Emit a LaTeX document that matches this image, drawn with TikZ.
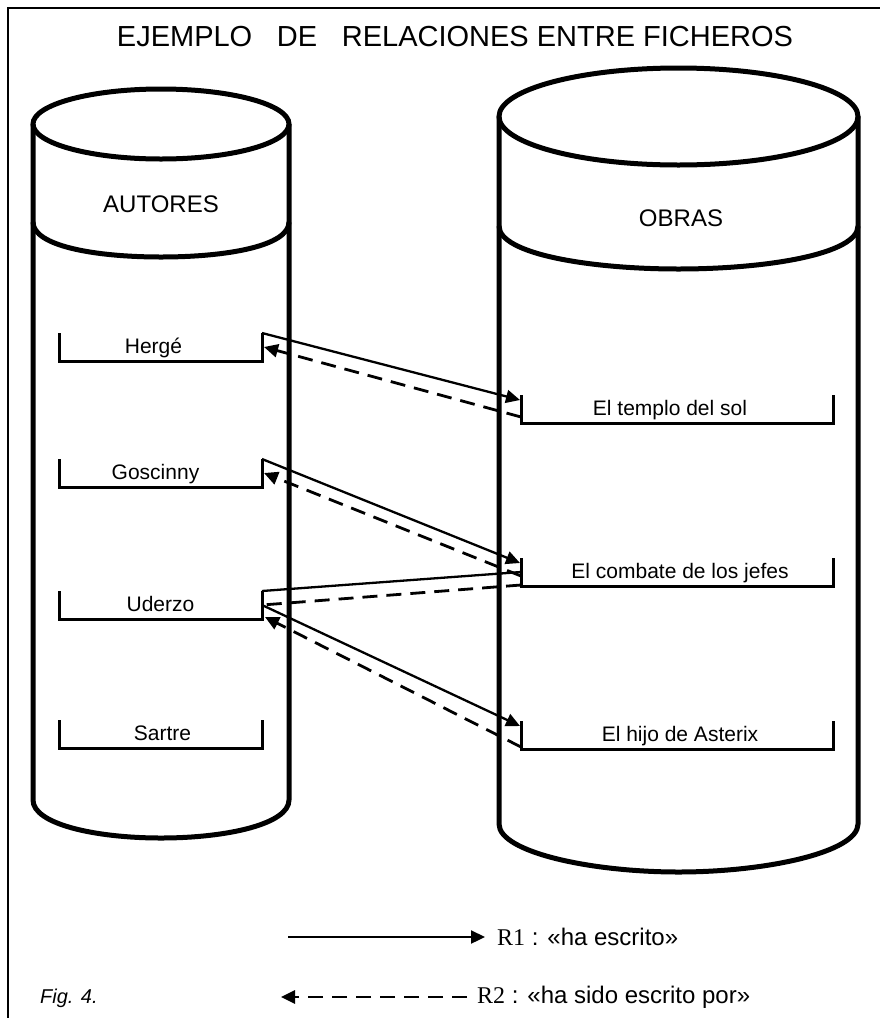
\documentclass[tikz,border=0pt]{standalone}
\usepackage{fontspec}
\setmainfont{Liberation Sans}
\newfontfamily\tagfont{Liberation Serif}
\usetikzlibrary{arrows.meta}
\begin{document}
\begin{tikzpicture}[x=1pt,y=-1pt,
  frame/.style={line width=2.6pt},
  drum/.style={line width=5pt},
  recbox/.style={line width=3pt},
  record/.style={rectangle,inner sep=0pt,outer sep=0pt,minimum height=28pt},
  leftrec/.style={record,minimum width=203pt},
  rightrec/.style={record,minimum width=312pt},
  rectext/.style={font=\fontsize{21}{24}\selectfont,anchor=base,inner sep=0pt},
  filetitle/.style={font=\fontsize{24}{28}\selectfont,inner sep=0pt},
  legendtext/.style={font=\fontsize{24}{28}\selectfont,anchor=west,inner sep=0pt},
  tip/.style={-{Triangle[length=14pt,width=13pt]}},
  writes/.style={line width=2.3pt},
  writtenby/.style={line width=2.8pt,dash pattern=on 15pt off 9pt},
]
\useasboundingbox (0,0) rectangle (880,1018);
\fill[white] (0,0) rectangle (880,1018);

% frame (left and top edges)
\draw[frame] (8,1018) -- (8,8) -- (880,8);

% heading
\node[font=\fontsize{29}{33}\selectfont,anchor=base,inner sep=0pt] (heading) at (455,46)
  {EJEMPLO\hspace{0.85em}DE\hspace{0.85em}RELACIONES ENTRE FICHEROS};

% file AUTORES
\draw[drum] (161,124) ellipse [x radius=128pt, y radius=35pt];
\draw[drum] (33,124) -- (33,800) .. controls (33,824) and (95,838) .. (161,838)
  .. controls (227,838) and (289,824) .. (289,800) -- (289,124);
\draw[drum] (33,222) .. controls (33,246) and (95,257) .. (161,257)
  .. controls (227,257) and (289,246) .. (289,222);
\node[filetitle] (autores) at (161,204) {AUTORES};

% file OBRAS
\draw[drum] (678.5,116.5) ellipse [x radius=179.5pt, y radius=48.5pt];
\draw[drum] (499,116.5) -- (499,824) .. controls (499,852) and (590,872) .. (678.5,872)
  .. controls (767,872) and (858,852) .. (858,824) -- (858,116.5);
\draw[drum] (499,226) .. controls (499,254) and (590,269) .. (678.5,269)
  .. controls (767,269) and (858,254) .. (858,226);
\node[filetitle] (obras) at (681,218) {OBRAS};

% records of AUTORES
\node[leftrec] (herge) at (160.5,347) {};
\node[leftrec] (gosc) at (160.5,473) {};
\node[leftrec] (uderzo) at (160.5,605) {};
\node[leftrec] (sartre) at (160.5,734) {};
% records of OBRAS
\node[rightrec] (templo) at (677,409) {};
\node[rightrec] (combate) at (677,572) {};
\node[rightrec] (asterix) at (677,735) {};

\foreach \r in {herge,gosc,uderzo,sartre,templo,combate,asterix}
  \draw[recbox] (\r.north west) -- (\r.south west) -- (\r.south east) -- (\r.north east);

\node[rectext] (hergetxt) at ([xshift=-7pt,yshift=8pt]herge.south) {Hergé};
\node[rectext] (gosctxt) at ([xshift=-5pt,yshift=8pt]gosc.south) {Goscinny};
\node[rectext] (uderzotxt) at ([xshift=0pt,yshift=8pt]uderzo.south) {Uderzo};
\node[rectext] (sartretxt) at ([xshift=2pt,yshift=8pt]sartre.south) {Sartre};
\node[rectext] (templotxt) at ([xshift=-7pt,yshift=8pt]templo.south) {El templo del sol};
\node[rectext] (combatetxt) at ([xshift=3pt,yshift=8pt]combate.south) {El combate de los jefes};
\node[rectext] (asterixtxt) at ([xshift=3pt,yshift=8pt]asterix.south) {El hijo de Asterix};

% R1 : ha escrito
\draw[writes,tip] (herge.north east) -- ([xshift=-1pt,yshift=-5pt]templo.north west);
\draw[writes,tip] (gosc.north east) -- ([xshift=-1pt,yshift=-5pt]combate.north west);
\draw[writes] (uderzo.north east) -- ([yshift=-14pt]combate.north west);
\draw[writes,tip] (uderzo.east) -- ([xshift=-1pt,yshift=-5pt]asterix.north west);

% R2 : ha sido escrito por
\draw[writtenby,tip] ([yshift=6pt]templo.south west) -- ([xshift=2pt]herge.east);
\draw[writtenby,tip] ([yshift=10pt]combate.south west) -- ([xshift=2pt]gosc.east);
\draw[writtenby] ([yshift=1pt]combate.south west) -- (uderzo.east);
\draw[writtenby,tip] ([yshift=2pt]asterix.south west) -- ([xshift=3pt,yshift=2pt]uderzo.south east);

% legend
\coordinate (r1start) at (288,937);
\node[legendtext] (r1text) at (497,937) {{\tagfont R1} : «ha escrito»};
\draw[writes,tip] (r1start) -- ([xshift=-12pt]r1text.west);
\coordinate (r2end) at (281,997);
\node[legendtext] (r2text) at (477,997) {{\tagfont R2} : «ha sido escrito por»};
\draw[writtenby,tip] ([xshift=-10pt]r2text.west) -- (r2end);

\node[font=\fontsize{20}{24}\itshape\selectfont,anchor=west,inner sep=0pt] (figno) at (40,998) {Fig. 4.};
\end{tikzpicture}
\end{document}
